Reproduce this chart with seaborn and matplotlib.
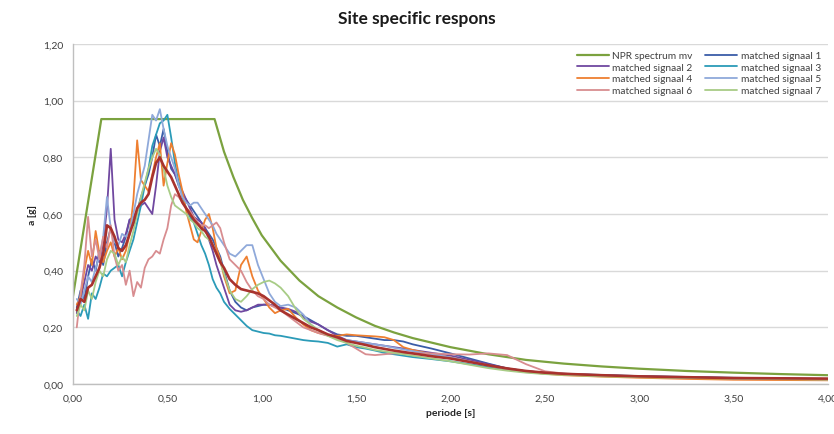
import numpy as np
import pandas as pd
import matplotlib
matplotlib.use("Agg")
import matplotlib.pyplot as plt
from matplotlib.ticker import FuncFormatter, MultipleLocator
import seaborn as sns

# ---------------- data ----------------
npr_T = [0.0, 0.15, 0.75, 0.8, 0.85, 0.9, 0.95, 1.0, 1.1, 1.2, 1.3, 1.4, 1.5, 1.6,
         1.7, 1.8, 2.0, 2.2, 2.4, 2.6, 2.8, 3.0, 3.25, 3.5, 3.75, 4.0]
npr_a = [0.31, 0.935, 0.935, 0.82, 0.73, 0.65, 0.585, 0.525, 0.435, 0.365, 0.31, 0.27,
         0.235, 0.205, 0.182, 0.162, 0.130, 0.105, 0.085, 0.072, 0.062, 0.054, 0.046,
         0.040, 0.035, 0.031]

T = [0.02, 0.04, 0.06, 0.08, 0.10, 0.12, 0.14, 0.16, 0.18, 0.20,
     0.22, 0.24, 0.26, 0.28, 0.30, 0.32, 0.34, 0.36, 0.38, 0.40,
     0.42, 0.44, 0.46, 0.48, 0.50, 0.52, 0.54, 0.56, 0.58, 0.60,
     0.62, 0.64, 0.66, 0.68, 0.70, 0.72, 0.74, 0.76, 0.78, 0.80,
     0.83, 0.86, 0.89, 0.92, 0.95, 0.98, 1.01, 1.04, 1.07, 1.10,
     1.14, 1.18, 1.22, 1.26, 1.30,
     1.35, 1.40, 1.45, 1.50, 1.55, 1.60, 1.65, 1.70, 1.75, 1.80,
     1.90, 2.00, 2.10, 2.20, 2.30, 2.40, 2.50, 2.60,
     2.80, 3.00, 3.25, 3.50, 3.75, 4.00]

sig1 = [0.27, 0.33, 0.30, 0.38, 0.44, 0.40, 0.47, 0.42, 0.50, 0.55,
        0.50, 0.45, 0.48, 0.52, 0.58, 0.56, 0.61, 0.66, 0.70, 0.74,
        0.80, 0.88, 0.84, 0.90, 0.82, 0.76, 0.74, 0.70, 0.67, 0.65,
        0.63, 0.61, 0.59, 0.57, 0.55, 0.53, 0.51, 0.48, 0.45, 0.40,
        0.33, 0.29, 0.27, 0.26, 0.27, 0.275, 0.28, 0.28, 0.275, 0.27,
        0.26, 0.25, 0.24, 0.225, 0.21,
        0.19, 0.175, 0.17, 0.17, 0.165, 0.16, 0.155, 0.155, 0.15, 0.14,
        0.125, 0.108, 0.09, 0.072, 0.055, 0.045, 0.04, 0.036,
        0.032, 0.028, 0.025, 0.022, 0.02, 0.018]

sig2 = [0.25, 0.30, 0.36, 0.42, 0.40, 0.45, 0.43, 0.50, 0.62, 0.83,
        0.58, 0.51, 0.50, 0.53, 0.58, 0.59, 0.61, 0.63, 0.64, 0.62,
        0.60, 0.70, 0.82, 0.87, 0.80, 0.77, 0.74, 0.71, 0.68, 0.65,
        0.62, 0.59, 0.58, 0.57, 0.55, 0.51, 0.47, 0.42, 0.38, 0.34,
        0.28, 0.26, 0.255, 0.26, 0.27, 0.28, 0.28, 0.28, 0.275, 0.27,
        0.265, 0.255, 0.235, 0.22, 0.21,
        0.19, 0.17, 0.155, 0.15, 0.145, 0.14, 0.135, 0.13, 0.125, 0.12,
        0.11, 0.10, 0.085, 0.07, 0.055, 0.045, 0.04, 0.036,
        0.031, 0.027, 0.024, 0.021, 0.019, 0.017]

sig3 = [0.26, 0.24, 0.28, 0.23, 0.32, 0.30, 0.34, 0.39, 0.38, 0.40,
        0.41, 0.42, 0.38, 0.43, 0.47, 0.51, 0.57, 0.63, 0.70, 0.76,
        0.84, 0.88, 0.92, 0.93, 0.95, 0.87, 0.78, 0.71, 0.66, 0.62,
        0.59, 0.57, 0.53, 0.49, 0.46, 0.42, 0.37, 0.34, 0.32, 0.29,
        0.265, 0.245, 0.225, 0.205, 0.19, 0.185, 0.18, 0.178, 0.172, 0.17,
        0.165, 0.16, 0.155, 0.152, 0.15,
        0.145, 0.132, 0.14, 0.13, 0.125, 0.118, 0.11, 0.105, 0.10, 0.095,
        0.088, 0.08, 0.07, 0.06, 0.05, 0.042, 0.037, 0.033,
        0.028, 0.025, 0.022, 0.02, 0.018, 0.016]

sig4 = [0.28, 0.31, 0.40, 0.47, 0.42, 0.54, 0.46, 0.43, 0.47, 0.50,
        0.45, 0.48, 0.44, 0.47, 0.53, 0.65, 0.86, 0.72, 0.70, 0.68,
        0.74, 0.80, 0.85, 0.70, 0.78, 0.85, 0.81, 0.74, 0.68, 0.61,
        0.56, 0.51, 0.50, 0.54, 0.58, 0.60, 0.55, 0.48, 0.44, 0.38,
        0.32, 0.33, 0.42, 0.45, 0.38, 0.33, 0.30, 0.27, 0.25, 0.26,
        0.265, 0.235, 0.21, 0.19, 0.18,
        0.172, 0.17, 0.175, 0.172, 0.17, 0.168, 0.165, 0.155, 0.13, 0.12,
        0.105, 0.094, 0.08, 0.065, 0.052, 0.043, 0.036, 0.031,
        0.026, 0.022, 0.018, 0.015, 0.014, 0.013]

sig5 = [0.30, 0.28, 0.33, 0.38, 0.36, 0.41, 0.45, 0.52, 0.66, 0.55,
        0.50, 0.49, 0.53, 0.52, 0.54, 0.60, 0.67, 0.72, 0.77, 0.86,
        0.95, 0.93, 0.97, 0.90, 0.84, 0.80, 0.76, 0.70, 0.66, 0.64,
        0.63, 0.64, 0.64, 0.62, 0.60, 0.58, 0.56, 0.53, 0.51, 0.49,
        0.46, 0.45, 0.47, 0.49, 0.49, 0.42, 0.37, 0.32, 0.29, 0.275,
        0.28, 0.27, 0.245, 0.21, 0.19,
        0.172, 0.16, 0.155, 0.15, 0.145, 0.14, 0.135, 0.128, 0.122, 0.116,
        0.105, 0.094, 0.08, 0.066, 0.053, 0.045, 0.04, 0.036,
        0.03, 0.026, 0.023, 0.02, 0.018, 0.016]

sig6 = [0.20, 0.32, 0.42, 0.59, 0.45, 0.51, 0.44, 0.52, 0.48, 0.56,
        0.45, 0.40, 0.42, 0.35, 0.40, 0.31, 0.36, 0.34, 0.41, 0.44,
        0.45, 0.47, 0.46, 0.51, 0.55, 0.63, 0.67, 0.66, 0.64, 0.62,
        0.61, 0.59, 0.57, 0.56, 0.56, 0.55, 0.56, 0.57, 0.55, 0.50,
        0.44, 0.42, 0.40, 0.36, 0.33, 0.31, 0.30, 0.28, 0.27, 0.26,
        0.24, 0.22, 0.20, 0.19, 0.18,
        0.17, 0.16, 0.145, 0.125, 0.105, 0.102, 0.105, 0.108, 0.108, 0.108,
        0.108, 0.105, 0.104, 0.108, 0.102, 0.07, 0.045, 0.037,
        0.03, 0.026, 0.023, 0.02, 0.019, 0.018]

sig7 = [0.24, 0.28, 0.26, 0.33, 0.30, 0.36, 0.40, 0.38, 0.44, 0.47,
        0.46, 0.42, 0.45, 0.43, 0.49, 0.54, 0.60, 0.66, 0.71, 0.76,
        0.80, 0.83, 0.81, 0.76, 0.70, 0.66, 0.63, 0.62, 0.61, 0.60,
        0.58, 0.57, 0.55, 0.54, 0.52, 0.51, 0.49, 0.46, 0.43, 0.39,
        0.33, 0.30, 0.29, 0.31, 0.335, 0.35, 0.36, 0.365, 0.355, 0.34,
        0.31, 0.265, 0.23, 0.21, 0.19,
        0.17, 0.155, 0.145, 0.135, 0.128, 0.12, 0.115, 0.11, 0.105, 0.10,
        0.09, 0.08, 0.068, 0.056, 0.047, 0.04, 0.035, 0.032,
        0.027, 0.024, 0.021, 0.019, 0.017, 0.016]

mean_sig = [0.26, 0.30, 0.29, 0.34, 0.35, 0.38, 0.41, 0.46, 0.56, 0.55,
            0.52, 0.48, 0.47, 0.49, 0.53, 0.57, 0.62, 0.64, 0.65, 0.67,
            0.73, 0.78, 0.80, 0.77, 0.75, 0.73, 0.70, 0.67, 0.64, 0.62,
            0.60, 0.58, 0.565, 0.55, 0.54, 0.52, 0.49, 0.46, 0.43, 0.41,
            0.37, 0.35, 0.335, 0.33, 0.325, 0.32, 0.31, 0.295, 0.28, 0.26,
            0.245, 0.23, 0.215, 0.20, 0.19,
            0.175, 0.165, 0.152, 0.145, 0.138, 0.13, 0.124, 0.118, 0.113, 0.108,
            0.098, 0.09, 0.078, 0.066, 0.055, 0.046, 0.04, 0.036,
            0.031, 0.027, 0.024, 0.021, 0.02, 0.019]

labels = ["matched signaal 1", "matched signaal 2", "matched signaal 3",
          "matched signaal 4", "matched signaal 5", "matched signaal 6",
          "matched signaal 7"]
signals = [sig1, sig2, sig3, sig4, sig5, sig6, sig7]

# ---------------- style ----------------
sns.set_theme(style="white")
plt.rcParams["font.family"] = ["Lato", "DejaVu Sans"]

colors = ["#3A5DA8", "#7048A0", "#2B9BB8", "#EE7F30", "#8FA9DA", "#D88D90", "#A8CC86"]
npr_color = "#7BA23F"
mean_color = "#A8322D"

fig = plt.figure(figsize=(8.34, 4.35), dpi=100)
ax = fig.add_axes([73/834, 1 - 385/435, (828 - 73)/834, (385 - 45)/435])

sns.lineplot(x=npr_T, y=npr_a, ax=ax, color=npr_color, linewidth=1.6,
             label="NPR spectrum mv", sort=False)
for s, lab, c in zip(signals, labels, colors):
    sns.lineplot(x=T, y=s, ax=ax, color=c, linewidth=1.3, label=lab)
sns.lineplot(x=T, y=mean_sig, ax=ax, color=mean_color, linewidth=1.9, label="_mean")

ax.set_xlim(0, 4)
ax.set_ylim(0, 1.2)
ax.xaxis.set_major_locator(MultipleLocator(0.5))
ax.yaxis.set_major_locator(MultipleLocator(0.2))
fmt = FuncFormatter(lambda v, p: f"{v:.2f}".replace(".", ","))
ax.xaxis.set_major_formatter(fmt)
ax.yaxis.set_major_formatter(fmt)
ax.grid(axis="y", color="#d9d9d9", linewidth=1.0)
ax.grid(axis="x", visible=False)
ax.set_axisbelow(True)
for sp in ["top", "right"]:
    ax.spines[sp].set_visible(False)
for sp in ["left", "bottom"]:
    ax.spines[sp].set_color("#bfbfbf")
    ax.spines[sp].set_linewidth(1.0)
ax.tick_params(axis="both", which="major", labelsize=7.5, colors="#595959",
               length=4, width=0.8, direction="out", color="#bfbfbf", pad=3)
ax.tick_params(axis="x", labelcolor="#404040")
ax.tick_params(axis="y", labelcolor="#404040")

ax.set_xlabel("periode [s]", fontsize=7.5, fontweight="bold", color="#262626", labelpad=4)
ax.set_ylabel("a [g]", fontsize=7.5, fontweight="bold", color="#262626", labelpad=4)
fig.text(417/834, 1 - 19/435, "Site specific respons", ha="center", va="center",
         fontsize=12.5, fontweight="bold", color="#1a1a1a")

# legend ordering: row-wise like the reference (2 columns)
handles, labs = ax.get_legend_handles_labels()
order_rowwise = ["NPR spectrum mv", "matched signaal 1", "matched signaal 2",
                 "matched signaal 3", "matched signaal 4", "matched signaal 5",
                 "matched signaal 6", "matched signaal 7"]
hmap = dict(zip(labs, handles))
# matplotlib fills columns first; rearrange so rows read as in reference
col1 = [order_rowwise[i] for i in range(0, 8, 2)]
col2 = [order_rowwise[i] for i in range(1, 8, 2)]
ordered = col1 + col2
leg = ax.legend([hmap[l] for l in ordered], ordered, ncol=2, loc="upper right",
                bbox_to_anchor=(1.0, 1.0), frameon=False, fontsize=7.3,
                handlelength=3.2, columnspacing=1.2, labelspacing=0.25,
                handletextpad=0.3, borderaxespad=0.3)
for t in leg.get_texts():
    t.set_color("#404040")

fig.savefig("out.png", dpi=100, facecolor="white")
